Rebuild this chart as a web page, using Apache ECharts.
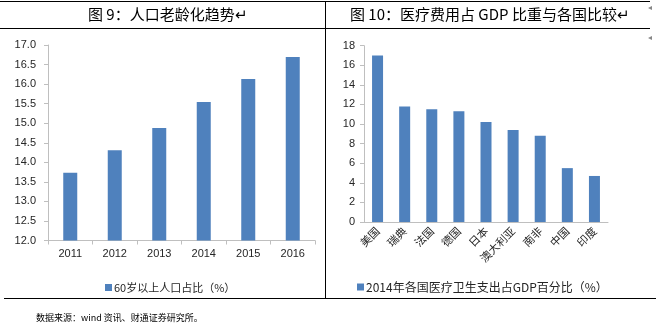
<!DOCTYPE html>
<html><head><meta charset="utf-8">
<script src="https://cdn.jsdelivr.net/npm/echarts@6/dist/echarts.min.js"></script>
<style>html,body{margin:0;padding:0;background:#fff}#c{width:656px;height:325px}</style>
</head><body><div id="c"></div>
<script>
var years = ['2011','2012','2013','2014','2015','2016'];
var agingValues = [13.73, 14.31, 14.88, 15.54, 16.13, 16.69];
var agingTicks = [12.0, 12.5, 13.0, 13.5, 14.0, 14.5, 15.0, 15.5, 16.0, 16.5, 17.0];
var countries = ['美国','瑞典','法国','德国','日本','澳大利亚','南非','中国','印度'];
var healthValues = [17.0, 11.8, 11.5, 11.3, 10.2, 9.4, 8.8, 5.5, 4.7];
var healthTicks = [0, 2, 4, 6, 8, 10, 12, 14, 16, 18];
var title1 = '图 9：人口老龄化趋势↵';
var title2 = '图 10：医疗费用占 GDP 比重与各国比较↵';
var legend1 = '60岁以上人口占比（%）';
var legend2 = '2014年各国医疗卫生支出占GDP百分比（%）';
var source = '数据来源：wind 资讯、财通证券研究所。';

var FONT = 'Liberation Sans, Arial, Noto Sans CJK SC, sans-serif';
var CJK = 'Noto Sans CJK SC, sans-serif';
var axisGrey = '#BFBFBF';
var txt = '#262626';
var barColor = '#4F81BD';

var chart = echarts.init(document.getElementById('c'), null, {renderer:'canvas'});
chart.setOption({
  animation: false,
  backgroundColor: '#fff',
  graphic: [
    {type:'line', shape:{x1:0,y1:1.5,x2:650,y2:1.5}, style:{stroke:'#000',lineWidth:1}},
    {type:'line', shape:{x1:0,y1:28.5,x2:650,y2:28.5}, style:{stroke:'#000',lineWidth:1}},
    {type:'line', shape:{x1:325.5,y1:1,x2:325.5,y2:298}, style:{stroke:'#000',lineWidth:1}},
    {type:'line', shape:{x1:4,y1:298.5,x2:656,y2:298.5}, style:{stroke:'#000',lineWidth:1}},
    {type:'text', left:88, top:7, style:{text:title1, font:'15px ' + CJK, fill:'#000'}},
    {type:'text', left:350, top:7, style:{text:title2, font:'15px ' + CJK, fill:'#000'}},
    {type:'text', left:36, top:313, style:{text:source, font:'9px ' + CJK, fill:'#000'}},
    {type:'text', left:648, top:3, style:{text:'◂', font:'8px ' + CJK, fill:'#888'}},
    {type:'text', left:648, top:33, style:{text:'◂', font:'8px ' + CJK, fill:'#888'}}
  ],
  legend: [
    {data:[legend1], left:100, top:277, itemWidth:7, itemHeight:7, itemGap:3, icon:'rect',
     textStyle:{fontFamily:CJK, fontSize:11, color:txt, padding:[0,0,0,-3]}},
    {data:[legend2], left:352, top:276, itemWidth:7, itemHeight:7, icon:'rect',
     textStyle:{fontFamily:CJK, fontSize:12, color:txt, padding:[0,0,0,-3]}}
  ],
  grid: [
    {left:48, top:45, width:267, height:195.5},
    {left:364, top:45.7, width:244, height:176.3}
  ],
  xAxis: [
    {type:'category', gridIndex:0, data:years,
     axisLine:{lineStyle:{color:axisGrey}}, axisTick:{show:true, length:4, lineStyle:{color:axisGrey}},
     axisLabel:{fontFamily:FONT, fontSize:11, color:txt, margin:8}},
    {type:'category', gridIndex:1, data:countries,
     axisLine:{lineStyle:{color:axisGrey}}, axisTick:{show:false},
     axisLabel:{fontFamily:CJK, fontSize:11, color:txt, rotate:45, margin:7, interval:0}}
  ],
  yAxis: [
    {type:'value', gridIndex:0, min:agingTicks[0], max:agingTicks[agingTicks.length-1], interval:0.5,
     splitLine:{show:false}, axisLine:{show:true, lineStyle:{color:axisGrey}},
     axisTick:{show:true, length:4, lineStyle:{color:axisGrey}},
     axisLabel:{fontFamily:FONT, fontSize:11, color:txt, margin:12, formatter:function(v){return v.toFixed(1);}}},
    {type:'value', gridIndex:1, min:healthTicks[0], max:healthTicks[healthTicks.length-1], interval:2,
     splitLine:{show:false}, axisLine:{show:true, lineStyle:{color:axisGrey}},
     axisTick:{show:true, length:4, lineStyle:{color:axisGrey}},
     axisLabel:{fontFamily:FONT, fontSize:11, color:txt, margin:9}}
  ],
  series: [
    {name:legend1, type:'bar', xAxisIndex:0, yAxisIndex:0, data:agingValues, barWidth:14, itemStyle:{color:barColor}},
    {name:legend2, type:'bar', xAxisIndex:1, yAxisIndex:1, data:healthValues, barWidth:11, itemStyle:{color:barColor}}
  ]
});
</script></body></html>
